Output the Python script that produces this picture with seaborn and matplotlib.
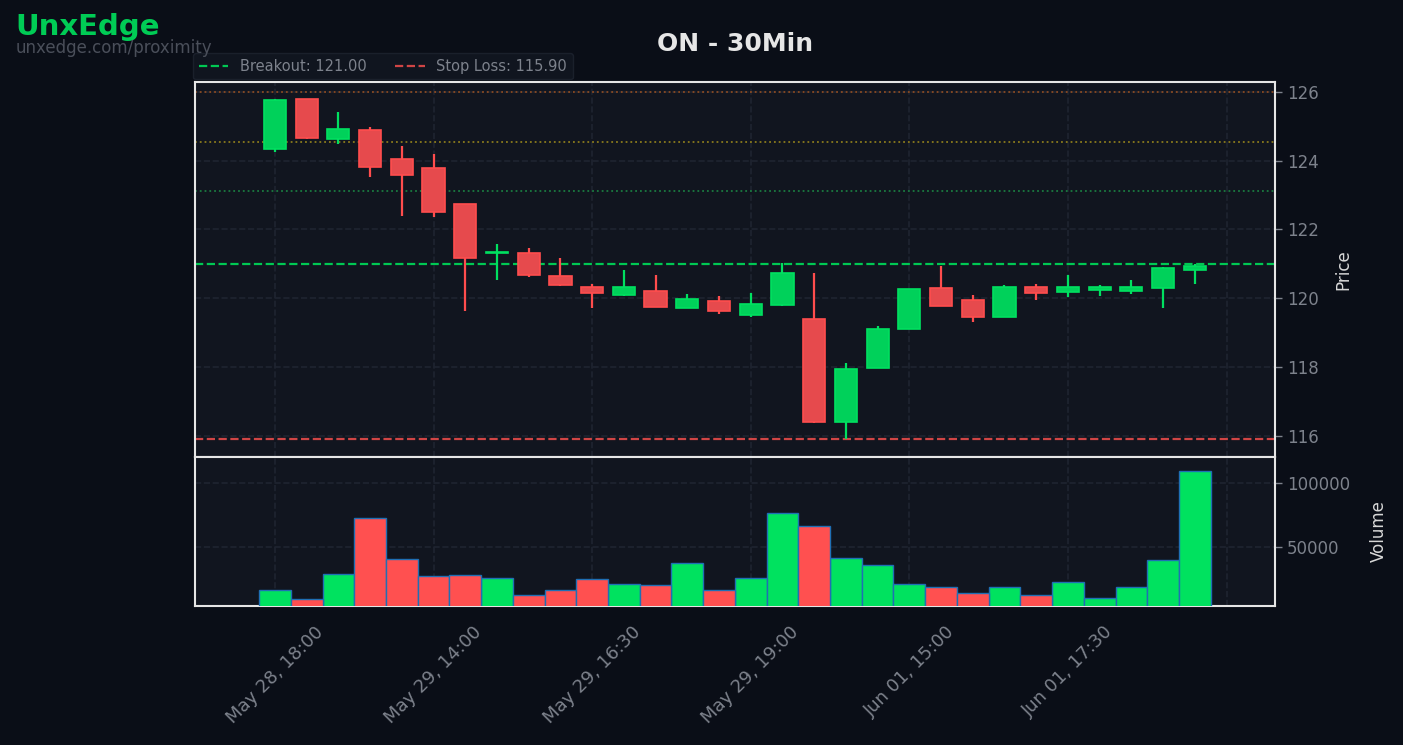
import numpy as np
import pandas as pd
import matplotlib
matplotlib.use("Agg")
import matplotlib.pyplot as plt
import seaborn as sns

sns.set_style("darkgrid")
plt.rcParams["font.family"] = ["DejaVu Sans"]

# OHLC + volume (30 min bars)
opens = [124.32, 125.78, 124.62, 124.88, 124.05, 123.79, 122.74, 121.30, 121.31, 120.65,
         120.33, 120.08, 120.21, 119.71, 119.91, 119.51, 119.79, 119.38, 116.41, 117.96,
         119.11, 120.29, 119.95, 119.45, 120.32, 120.18, 120.24, 120.21, 120.29, 120.82]
closes = [125.76, 124.64, 124.91, 123.80, 123.59, 122.49, 121.16, 121.33, 120.66, 120.38,
          120.15, 120.33, 119.74, 119.96, 119.63, 119.83, 120.72, 116.41, 117.94, 119.09,
          120.26, 119.78, 119.45, 120.31, 120.16, 120.32, 120.32, 120.32, 120.87, 120.93]
highs = [125.79, 125.79, 125.41, 124.96, 124.41, 124.19, 122.74, 121.58, 121.46, 121.18,
         120.42, 120.83, 120.66, 120.13, 120.05, 120.16, 121.02, 120.74, 118.12, 119.20,
         120.27, 120.92, 120.08, 120.39, 120.42, 120.68, 120.39, 120.54, 120.89, 120.99]
lows = [124.26, 124.63, 124.49, 123.53, 122.40, 122.35, 119.62, 120.54, 120.61, 120.35,
        119.70, 120.07, 119.73, 119.71, 119.53, 119.45, 119.78, 116.37, 115.90, 117.96,
        119.11, 119.76, 119.30, 119.44, 119.94, 120.03, 120.06, 120.11, 119.71, 120.40]
volumes = [15900, 8900, 28400, 72200, 40200, 26900, 27700, 25300, 12000, 15900,
           24500, 20600, 19800, 37000, 15900, 25300, 76100, 65900, 40900, 35500,
           20600, 18300, 13600, 18300, 12000, 22200, 9700, 18300, 39400, 108900]

tick_labels = ["May 28, 18:00", "May 29, 14:00", "May 29, 16:30", "May 29, 19:00",
               "Jun 01, 15:00", "Jun 01, 17:30", ""]

breakout = 121.00
stop_loss = 115.90
levels = [126.00, 124.55, 123.10]
level_colors = ["#8a4a22", "#8a7a1c", "#1a7a40"]

df = pd.DataFrame({"open": opens, "high": highs, "low": lows, "close": closes, "volume": volumes})
df["idx"] = np.arange(len(df))
df["dir"] = np.where(df["close"] >= df["open"], "up", "down")

FIG_BG = "#0a0e17"
AX_BG = "#11151f"
GRID = "#1f2430"
TXT = "#7d828c"
UP_FILL, UP_EDGE = "#00d15a", "#00e060"
DN_FILL, DN_EDGE = "#e64a4d", "#ff4d4d"

fig = plt.figure(figsize=(14.03, 7.45), dpi=100, facecolor=FIG_BG)
ax = fig.add_axes([0.139, 0.387, 0.7698, 0.5033])
axv = fig.add_axes([0.139, 0.1862, 0.7698, 0.2008], sharex=ax)

for a in (ax, axv):
    a.set_facecolor(AX_BG)
    a.grid(True, color=GRID, linestyle="--", linewidth=1.2)
    for s in a.spines.values():
        s.set_color("#e6e6e6")
        s.set_linewidth(1.5)
    a.yaxis.tick_right()
    a.yaxis.set_label_position("right")
    a.tick_params(colors=TXT, labelsize=12, length=5, width=1)

# candles
for color_key, fill, edge in [("up", UP_FILL, UP_EDGE), ("down", DN_FILL, DN_EDGE)]:
    d = df[df["dir"] == color_key]
    ax.vlines(d["idx"], d["low"], d["high"], color=edge, linewidth=1.6, zorder=3)
    bottom = np.minimum(d["open"], d["close"])
    height = np.maximum(np.abs(d["close"] - d["open"]), 0.04)
    ax.bar(d["idx"], height, bottom=bottom, width=0.7, color=fill,
           edgecolor=edge, linewidth=1.2, zorder=4)

for lvl, c in zip(levels, level_colors):
    ax.axhline(lvl, color=c, linestyle=":", linewidth=1.3, zorder=2)
ax.axhline(breakout, color="#00c853", linestyle="--", linewidth=1.6,
           label=f"Breakout: {breakout:.2f}", zorder=2)
ax.axhline(stop_loss, color="#d04545", linestyle="--", linewidth=1.6,
           label=f"Stop Loss: {stop_loss:.2f}", zorder=2)

ax.set_ylim(115.39, 126.29)
ax.set_yticks([116, 118, 120, 122, 124, 126])
ax.set_ylabel("Price", color="#d8d8d8", fontsize=12, labelpad=11)
ax.tick_params(axis="x", length=0, labelbottom=False)
ax.set_xlim(-2.52, 31.53)
ax.set_title("ON - 30Min", color="#e6e6e6", fontsize=18, fontweight="bold", pad=22)

leg = ax.legend(loc="lower left", bbox_to_anchor=(-0.002, 1.006), ncol=2, fontsize=10.5,
                frameon=True, facecolor="#121722", edgecolor="#1e2430",
                labelcolor=TXT, borderaxespad=0.0, columnspacing=2.0)

# volume
sns.barplot(data=df, x="idx", y="volume", hue="dir", palette={"up": "#00e25f", "down": "#ff5050"},
            native_scale=True, width=1.0, dodge=False, saturation=1, edgecolor="#1f6fb4",
            linewidth=1, legend=False, ax=axv, zorder=3)
axv.set_ylim(3400, 120300)
axv.set_yticks([50000, 100000])
axv.set_ylabel("Volume", color="#d8d8d8", fontsize=12, labelpad=14)
axv.set_xlabel("")
axv.set_xlim(-2.52, 31.53)
axv.set_xticks(range(0, 31, 5))
axv.set_xticklabels(tick_labels, rotation=45)
axv.tick_params(axis="x", length=5, pad=7, labelsize=13)
axv.grid(True, color=GRID, linestyle="--", linewidth=1.2)

fig.text(0.011, 0.964, "UnxEdge", color="#00cc55", fontsize=21, fontweight="bold", va="center")
fig.text(0.011, 0.935, "unxedge.com/proximity", color="#4a4f5a", fontsize=12, va="center")

fig.savefig("out.png", dpi=100, facecolor=FIG_BG)
